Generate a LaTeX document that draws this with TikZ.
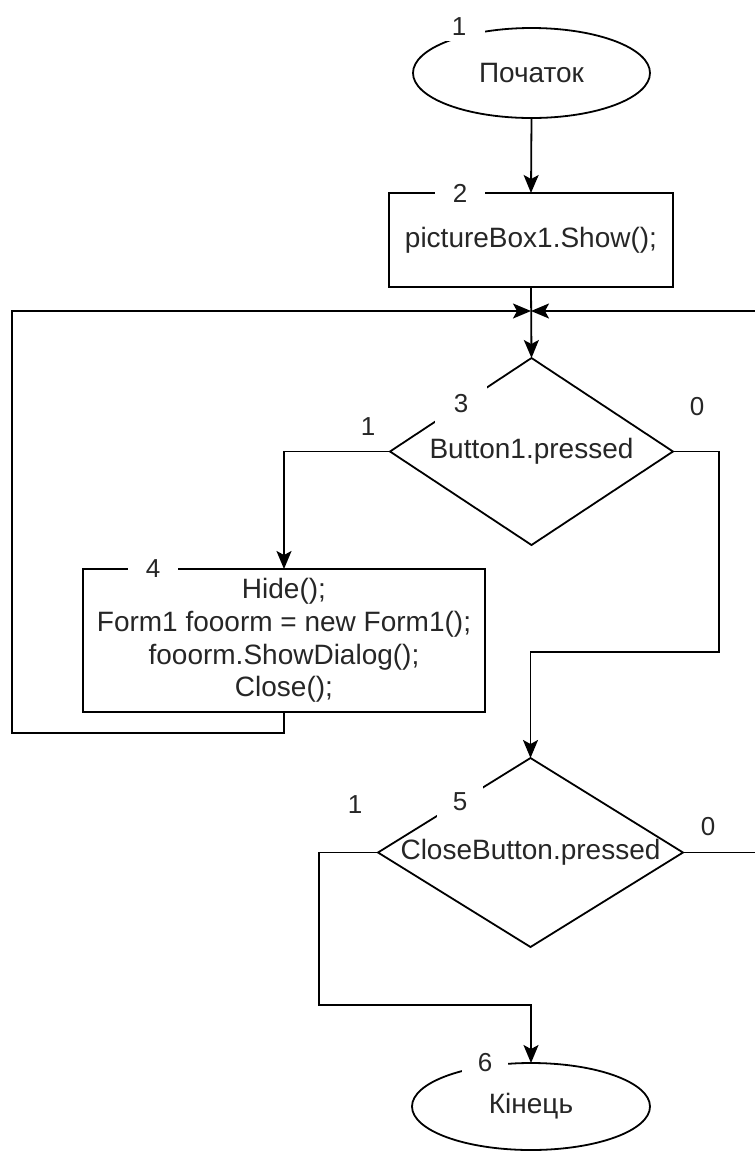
\documentclass[tikz,border=0pt]{standalone}
\usepackage{fontspec}
\setmainfont{Liberation Sans}
\usetikzlibrary{shapes.geometric,arrows.meta}
\begin{document}
\begin{tikzpicture}[x=0.5pt,y=-0.5pt,
  every node/.style={font=\fontsize{14}{16.4}\selectfont, text=black!85},
  term/.style={draw, line width=0.9pt, ellipse, outer sep=0pt, inner sep=0pt},
  proc/.style={draw, line width=0.9pt, rectangle, outer sep=0pt, inner sep=0pt, align=center},
  dia/.style={draw, line width=0.9pt, diamond, outer sep=0pt, inner sep=0pt},
  lbl/.style={fill=white, inner sep=0pt, font=\fontsize{13}{15}\selectfont},
  br/.style={inner sep=0pt, font=\fontsize{13}{15}\selectfont},
  conn/.style={line width=0.9pt},
  arr/.style={conn, -{Stealth[length=9pt,width=7.5pt,inset=2pt]}}]
\useasboundingbox (0,0) rectangle (755,1153);
% shapes
\node[term, minimum width=118.5pt, minimum height=45pt] (e1) at (531.5,73) {Початок};
\node[proc, minimum width=142pt, minimum height=47pt] (r2) at (531,240) {pictureBox1.Show();};
\node[dia, minimum width=141.5pt, minimum height=93.5pt] (d3) at (531.5,451.5) {};
\node (t3) at (d3) {Button1.pressed};
\node[proc, minimum width=201pt, minimum height=71.5pt] (r4) at (284,640.5) {Hide();\\Form1 fooorm = new Form1();\\fooorm.ShowDialog();\\Close();};
\node[dia, minimum width=152.5pt, minimum height=94.5pt] (d5) at (530.5,852.5) {};
\node (t5) at (d5) {CloseButton.pressed};
\node[term, minimum width=119pt, minimum height=43.5pt] (e6) at (531,1106.5) {Кінець};
% junction and bends
\coordinate (j) at (531,311);
\coordinate (jl) at (12,311);
\coordinate (bl) at (12,733);
\coordinate (jr) at (756,311);
\coordinate (c1) at (719,652);
\coordinate (c2) at (319,1005);
% connectors
\draw[arr] (e1.south) -- (r2.north);
\draw[arr] (r2.south) -- (d3.north);
\draw[arr] (r4.south) |- (bl) -- (jl) -- (j);
\draw[arr] (d5.east) -| (jr) -- (j);
\draw[arr] (d3.west) -| (r4.north);
\draw[arr] (d3.east) -| (c1) -| (d5.north);
\draw[arr] (d5.west) -| (c2) -| (e6.north);
% number labels
\node[lbl, minimum width=26pt, minimum height=14pt] (n1) at (459,27) {1};
\node[lbl, minimum width=25pt, minimum height=14pt] (n2) at (460,193) {2};
\node[lbl, minimum width=26pt, minimum height=20pt] (n3) at (461,404) {3};
\node[lbl, minimum width=25pt, minimum height=14pt] (n4) at (153,569) {4};
\node[lbl, minimum width=23pt, minimum height=20pt] (n5) at (460,802) {5};
\node[lbl, minimum width=23pt, minimum height=14pt] (n6) at (485,1063) {6};
% branch labels
\node[br] (b31) at (368,427) {1};
\node[br] (b30) at (697,407) {0};
\node[br] (b51) at (355,805) {1};
\node[br] (b50) at (708,827) {0};
\end{tikzpicture}
\end{document}
